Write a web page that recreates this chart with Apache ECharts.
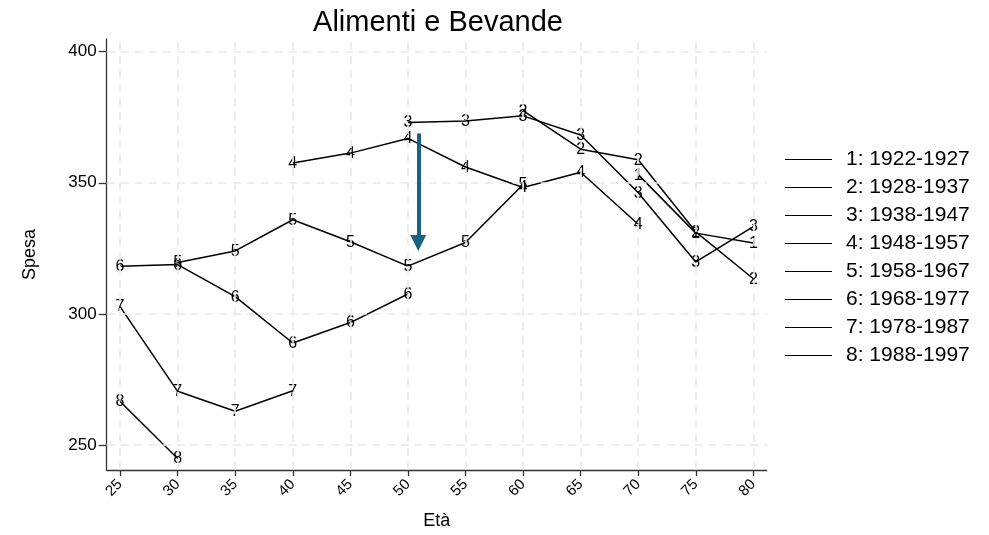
<!DOCTYPE html>
<html>
<head>
<meta charset="utf-8">
<script src="https://cdn.jsdelivr.net/npm/echarts@6/dist/echarts.min.js"></script>
<style>
html,body{margin:0;padding:0;background:#fff;}
#chart{width:989px;height:535px;}
</style>
</head>
<body>
<div id="chart"></div>
<script>
// ---- data ----
var ages = [25, 30, 35, 40, 45, 50, 55, 60, 65, 70, 75, 80];
var cohortNames = ['1: 1922-1927', '2: 1928-1937', '3: 1938-1947', '4: 1948-1957',
                   '5: 1958-1967', '6: 1968-1977', '7: 1978-1987', '8: 1988-1997'];
var cohortLabels = ['1', '2', '3', '4', '5', '6', '7', '8'];
var cohort1 = [null, null, null, null, null, null, null, null, null, 353.1, 330.8, 327.0];
var cohort2 = [null, null, null, null, null, null, null, 377.5, 362.8, 358.8, 331.3, 313.4];
var cohort3 = [null, null, null, null, null, 373.0, 373.5, 375.5, 368.2, 346.2, 319.8, 333.3];
var cohort4 = [null, null, null, 357.5, 361.3, 366.9, 356.0, 348.2, 354.0, 334.2, null, null];
var cohort5 = [null, 319.6, 324.0, 335.9, 327.5, 318.2, 327.2, 349.3, null, null, null, null];
var cohort6 = [318.2, 318.8, 306.6, 288.9, 296.7, 307.6, null, null, null, null, null, null];
var cohort7 = [302.8, 270.5, 262.9, 270.7, null, null, null, null, null, null, null, null];
var cohort8 = [266.6, 244.9, null, null, null, null, null, null, null, null, null, null];
var yTicks = [250, 300, 350, 400];
var xTicks = [25, 30, 35, 40, 45, 50, 55, 60, 65, 70, 75, 80];
var arrowX = 50.9;
var arrowFrom = 368.8;
var arrowTo = 327.0;

var cohorts = [cohort1, cohort2, cohort3, cohort4, cohort5, cohort6, cohort7, cohort8];
var FONT = 'Liberation Sans';

var series = [];
// grid lines (dashed) drawn as markLines
var gridLines = [];
yTicks.forEach(function (v) { gridLines.push({ yAxis: v }); });
xTicks.forEach(function (v) { gridLines.push({ xAxis: v }); });
series.push({
  type: 'line', name: '__grid', data: [], silent: true, z: 0,
  markLine: {
    silent: true, symbol: ['none', 'none'], label: { show: false },
    lineStyle: { color: '#e9e9e9', width: 1.6, type: [8, 6] },
    emphasis: { disabled: true },
    animation: false,
    data: gridLines
  }
});

cohorts.forEach(function (vals, k) {
  var pts = [];
  vals.forEach(function (v, i) { if (v !== null) pts.push([ages[i], v]); });
  series.push({
    type: 'line', name: cohortNames[k], data: pts, z: 3,
    showSymbol: false, symbol: 'none',
    itemStyle: { color: '#000' },
    lineStyle: { color: '#000', width: 1.5 },
    emphasis: { disabled: true },
    animation: false
  });
  // marker labels (series number centred on each point)
  series.push({
    type: 'custom', name: '__lab' + k, data: pts, z: 4, silent: true,
    renderItem: function (params, api) {
      var p = api.coord([api.value(0), api.value(1)]);
      return {
        type: 'text', x: p[0], y: p[1] + 0.5,
        style: {
          text: cohortLabels[k], fill: '#000',
          font: '16px "Liberation Sans", Arial, sans-serif',
          align: 'center', verticalAlign: 'middle'
        }
      };
    },
    animation: false
  });
});

// annotation arrow
series.push({
  type: 'line', name: '__arrow', data: [], silent: true, z: 5,
  markLine: {
    silent: true, symbol: ['none', 'triangle'], symbolSize: [16, 16],
    label: { show: false },
    lineStyle: { color: '#1b6184', width: 4, type: 'solid' },
    itemStyle: { color: '#1b6184' },
    emphasis: { disabled: true },
    animation: false,
    data: [[{ coord: [arrowX, arrowFrom] }, { coord: [arrowX, arrowTo] }]]
  }
});

var chart = echarts.init(document.getElementById('chart'), null, { renderer: 'canvas' });
chart.setOption({
  backgroundColor: '#fff',
  animation: false,
  textStyle: { fontFamily: FONT },
  title: {
    text: 'Alimenti e Bevande', left: 433, top: 3, textAlign: 'center',
    textStyle: { fontFamily: FONT, fontSize: 29, fontWeight: 'normal', color: '#000' }
  },
  legend: {
    orient: 'vertical', left: 785, top: 149, padding: 0,
    data: cohortNames,
    icon: 'path://M0 0 H100 V2 H0 Z',
    itemWidth: 47, itemHeight: 2, itemGap: 7,
    selectedMode: false,
    itemStyle: { color: '#000' },
    lineStyle: { color: '#000' },
    textStyle: { fontFamily: FONT, fontSize: 21, color: '#000', lineHeight: 21, padding: [0, 0, 0, 9] }
  },
  grid: { left: 106.7, right: 222.3, top: 39, bottom: 60.7, containLabel: false },
  xAxis: {
    type: 'value', min: 23.84, max: 81.16,
    name: 'Età', nameLocation: 'middle', nameGap: 42,
    nameTextStyle: { fontFamily: FONT, fontSize: 18, color: '#000' },
    axisLine: { show: true, onZero: false, lineStyle: { color: '#333', width: 1.3 } },
    axisTick: { show: true, length: 6, customValues: xTicks, lineStyle: { color: '#333', width: 1.3 } },
    axisLabel: { customValues: xTicks, rotate: 45, fontFamily: FONT, fontSize: 15, color: '#000', margin: 12 },
    splitLine: { show: false }
  },
  yAxis: {
    type: 'value', min: 240.5, max: 404.8,
    name: 'Spesa', nameLocation: 'middle', nameGap: 68,
    nameTextStyle: { fontFamily: FONT, fontSize: 18, color: '#000' },
    axisLine: { show: true, onZero: false, lineStyle: { color: '#333', width: 1.3 } },
    axisTick: { show: true, length: 8, customValues: yTicks, lineStyle: { color: '#333', width: 1.3 } },
    axisLabel: { customValues: yTicks, fontFamily: FONT, fontSize: 17, color: '#000', margin: 10 },
    splitLine: { show: false }
  },
  series: series
});
</script>
</body>
</html>
